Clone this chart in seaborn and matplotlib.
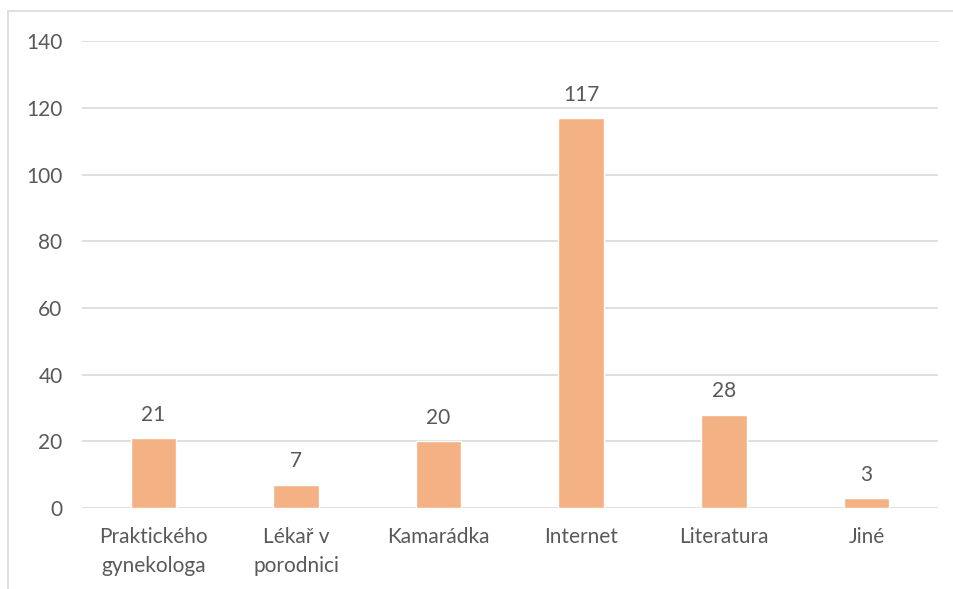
import pandas as pd
import matplotlib.pyplot as plt
import seaborn as sns
from matplotlib.lines import Line2D

categories = ["Praktického\ngynekologa", "Lékař v\nporodnici", "Kamarádka", "Internet", "Literatura", "Jiné"]
values = [21, 7, 20, 117, 28, 3]
y_ticks = [0, 20, 40, 60, 80, 100, 120, 140]

BAR_COLOR = "#F4B183"
TEXT_COLOR = "#595959"
GRID_COLOR = "#D9D9D9"
FS = 15

sns.set_theme(style="white")
plt.rcParams["font.family"] = ["Lato", "DejaVu Sans"]

df = pd.DataFrame({"zdroj": categories, "pocet": values})

fig = plt.figure(figsize=(9.54, 5.89), dpi=100)
ax = fig.add_axes([0.086, 0.1375, 0.897, 0.7925])

sns.barplot(data=df, x="zdroj", y="pocet", color=BAR_COLOR, width=0.32,
            saturation=1, ax=ax, zorder=3)

ax.set_ylim(0, 140)
ax.set_yticks(y_ticks)
ax.set_xlim(-0.5, len(categories) - 0.5)
ax.grid(axis="y", color=GRID_COLOR, linewidth=1.2, zorder=0)
for s in ax.spines.values():
    s.set_visible(False)
ax.set_xlabel("")
ax.set_ylabel("")
ax.tick_params(axis="both", length=0, labelsize=FS, colors=TEXT_COLOR)
ax.tick_params(axis="y", pad=14)
ax.tick_params(axis="x", pad=14)
for lbl in ax.get_xticklabels():
    lbl.set_linespacing(1.55)

# popisky hodnot
for i, v in enumerate(values):
    ax.text(i, v + 4, str(v), ha="center", va="bottom", fontsize=FS, color=TEXT_COLOR)

# rámeček grafu (levá a horní hrana)
fig.add_artist(Line2D([8.5 / 954, 8.5 / 954], [0, 1 - 11 / 589], transform=fig.transFigure,
                      color=GRID_COLOR, linewidth=1.2))
fig.add_artist(Line2D([8.5 / 954, 1], [1 - 11 / 589, 1 - 11 / 589], transform=fig.transFigure,
                      color=GRID_COLOR, linewidth=1.2))

fig.savefig("out.png", dpi=100)
